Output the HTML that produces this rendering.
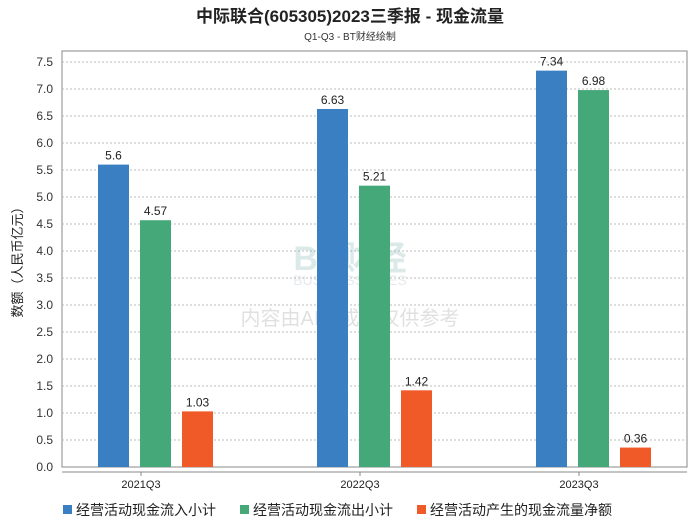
<!DOCTYPE html>
<html><head><meta charset="utf-8"><style>
body{margin:0;background:#fff;}
svg text{font-family:"Liberation Sans","Noto Sans CJK SC",sans-serif;}
</style></head><body>
<svg width="700" height="524" viewBox="0 0 700 524">
<rect width="700" height="524" fill="#fff"/>
<text x="350" y="22" text-anchor="middle" font-size="17" font-weight="bold" fill="#222">中际联合(605305)2023三季报 - 现金流量</text>
<text x="350" y="40" text-anchor="middle" font-size="10" fill="#333">Q1-Q3 - BT财经绘制</text>
<rect x="62" y="51" width="625" height="416" fill="none" stroke="#888"/>
<line x1="62" y1="472" x2="687" y2="472" stroke="#888"/>
<g id="grid"></g>
<g id="watermark" opacity="0.25">
<text x="350" y="270" text-anchor="middle" font-size="34" font-family="Liberation Serif,serif" fill="#7aa" font-weight="bold">BT财经</text>
<text x="350" y="285" text-anchor="middle" font-size="14" fill="#9ab">BUSINESSTIMES</text>
<text x="350" y="325" text-anchor="middle" font-size="20" fill="#888">内容由AI生成，仅供参考</text>
</g>
<g id="bars"></g>
<text transform="translate(22,259) rotate(-90)" text-anchor="middle" font-size="13" fill="#222">数额（人民币亿元）</text>
<g id="legend"></g>
</svg>
<script>
const categories=["2021Q3","2022Q3","2023Q3"];
const seriesNames=["经营活动现金流入小计","经营活动现金流出小计","经营活动产生的现金流量净额"];
const inflow=[5.6,6.63,7.34];
const outflow=[4.57,5.21,6.98];
const net=[1.03,1.42,0.36];
const yTicks=[0,0.5,1,1.5,2,2.5,3,3.5,4,4.5,5,5.5,6,6.5,7,7.5];
const colors=["#3a7fc1","#45a878","#f05a28"];
const NS="http://www.w3.org/2000/svg";
const y=v=>467-v*54;
const xc=i=>155+i*219;
function mk(tag,attrs,parent){const e=document.createElementNS(NS,tag);for(const k in attrs)e.setAttribute(k,attrs[k]);parent.appendChild(e);return e;}
const grid=document.getElementById('grid');
yTicks.forEach(t=>{
 if(t>0){const l=mk('line',{x1:62,x2:687,y1:y(t),y2:y(t),stroke:'#bbb','stroke-dasharray':'2,2'},grid);
 
 }
 const tx=mk('text',{x:53,y:y(t)+4,'text-anchor':'end','font-size':12,fill:'#333'},grid);tx.textContent=t.toFixed(1);
 
 
});
const bars=document.getElementById('bars');
const series=[inflow,outflow,net];
categories.forEach((c,i)=>{
 const tl=mk('text',{x:xc(i)-14,y:488,'text-anchor':'middle','font-size':11,fill:'#222'},bars);tl.textContent=c;
 
 
 mk('line',{x1:xc(i)-14,x2:xc(i)-14,y1:472,y2:476,stroke:'#888'},bars);
 series.forEach((s,j)=>{
  const x0=xc(i)-57+j*42;
  const r=mk('rect',{x:x0,y:y(s[i]),width:31,height:467-y(s[i]),fill:colors[j]},bars);
  
  
  const v=mk('text',{x:x0+15.5,y:y(s[i])-5,'text-anchor':'middle','font-size':12,fill:'#222'},bars);v.textContent=String(s[i]);
  
  
 });
});
const lg=document.getElementById('legend');
const lx=[63,240,417];
seriesNames.forEach((n,j)=>{
 const g=mk('g',{},lg);
 
 
 mk('rect',{x:lx[j],y:505,width:9,height:9,fill:colors[j]},g);
 const t=mk('text',{x:lx[j]+13,y:515,'font-size':14,fill:'#222'},g);t.textContent=n;
});
</script>
</body></html>
